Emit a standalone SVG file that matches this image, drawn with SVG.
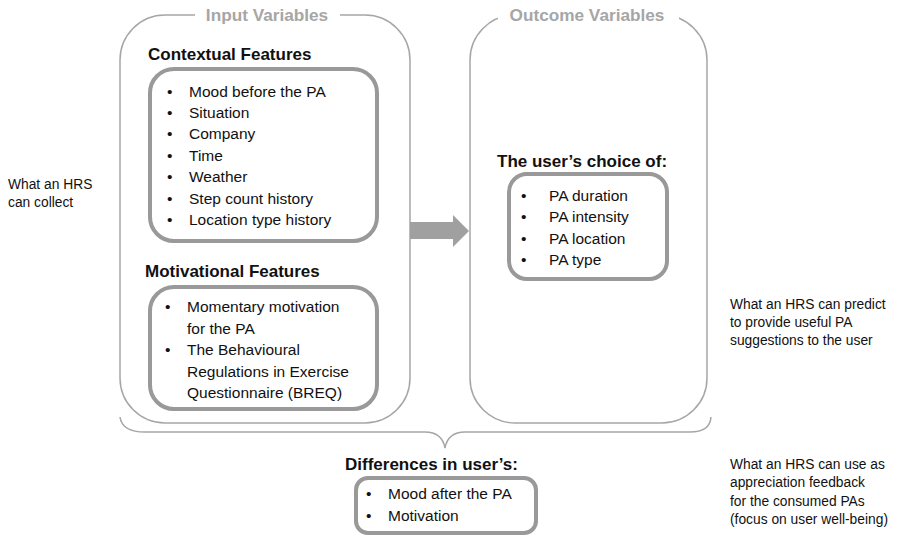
<svg xmlns="http://www.w3.org/2000/svg" width="899" height="536" viewBox="0 0 899 536">
<style>
text{font-family:"Liberation Sans",Arial,sans-serif;fill:#111}
.outer{fill:none;stroke:#a6a6a6;stroke-width:1.5}
.inner{fill:#fff;stroke:#999;stroke-width:4}
.title{font-size:17.2px;font-weight:bold;fill:#a6a6a6}
.head{font-size:17px;font-weight:bold}
.item{font-size:15.5px}
.note{font-size:13.8px}
.gap{fill:#fff}
</style>
<rect width="899" height="536" fill="#fff"/>
<g id="input-variables">
<rect class="outer" x="120" y="15" width="290" height="408" rx="45"/>
<rect class="gap" x="195" y="5" width="145" height="20"/>
<text class="title" x="267" y="21" text-anchor="middle">Input Variables</text>
</g>
<g id="outcome-variables">
<rect class="outer" x="470" y="15" width="237" height="408" rx="45"/>
<rect class="gap" x="498" y="5" width="181" height="20"/>
<text class="title" x="587" y="21" text-anchor="middle">Outcome Variables</text>
</g>
<g id="contextual-features">
<text class="head" x="148" y="60">Contextual Features</text>
<rect class="inner" x="150" y="69" width="227" height="172" rx="24"/>
<text class="item" x="167" y="97">•</text><text class="item" x="189" y="97">Mood before the PA</text>
<text class="item" x="167" y="118">•</text><text class="item" x="189" y="118">Situation</text>
<text class="item" x="167" y="139">•</text><text class="item" x="189" y="139">Company</text>
<text class="item" x="167" y="161">•</text><text class="item" x="189" y="161">Time</text>
<text class="item" x="167" y="182">•</text><text class="item" x="189" y="182">Weather</text>
<text class="item" x="167" y="204">•</text><text class="item" x="189" y="204">Step count history</text>
<text class="item" x="167" y="225">•</text><text class="item" x="189" y="225">Location type history</text>
</g>
<g id="motivational-features">
<text class="head" x="145" y="277">Motivational Features</text>
<rect class="inner" x="150" y="287" width="227" height="122" rx="24"/>
<text class="item" x="165" y="312">•</text><text class="item" x="187" y="312">Momentary motivation</text>
<text class="item" x="187" y="334">for the PA</text>
<text class="item" x="165" y="355">•</text><text class="item" x="187" y="355">The Behavioural</text>
<text class="item" x="187" y="377">Regulations in Exercise</text>
<text class="item" x="187" y="398">Questionnaire (BREQ)</text>
</g>
<g id="users-choice">
<text class="head" x="497" y="167">The user’s choice of:</text>
<rect class="inner" x="509" y="174" width="158" height="105" rx="18"/>
<text class="item" x="521" y="201">•</text><text class="item" x="549" y="201">PA duration</text>
<text class="item" x="521" y="222">•</text><text class="item" x="549" y="222">PA intensity</text>
<text class="item" x="521" y="244">•</text><text class="item" x="549" y="244">PA location</text>
<text class="item" x="521" y="265">•</text><text class="item" x="549" y="265">PA type</text>
</g>
<g id="differences">
<text class="head" x="345" y="470">Differences in user’s:</text>
<rect class="inner" x="356" y="478" width="180" height="55" rx="12"/>
<text class="item" x="366" y="499">•</text><text class="item" x="388" y="499">Mood after the PA</text>
<text class="item" x="366" y="521">•</text><text class="item" x="388" y="521">Motivation</text>
</g>
<g id="notes">
<text class="note" x="8" y="189">What an HRS</text>
<text class="note" x="8" y="207">can collect</text>
<text class="note" x="730" y="309">What an HRS can predict</text>
<text class="note" x="730" y="327">to provide useful PA</text>
<text class="note" x="730" y="345">suggestions to the user</text>
<text class="note" x="730" y="469">What an HRS can use as</text>
<text class="note" x="730" y="487">appreciation feedback</text>
<text class="note" x="730" y="506">for the consumed PAs</text>
<text class="note" x="730" y="524">(focus on user well-being)</text>
</g>
<g id="connectors">
<polygon points="410,222 453,222 453,215 469,231 453,247 453,239 410,239" fill="#a0a0a0"/>
<path d="M120,417 Q122,432 145,432 L425,432 Q442,432 445,448 Q448,432 465,432 L690,432 Q710,432 711,417" fill="none" stroke="#a6a6a6" stroke-width="1.5"/>
</g>
</svg>
